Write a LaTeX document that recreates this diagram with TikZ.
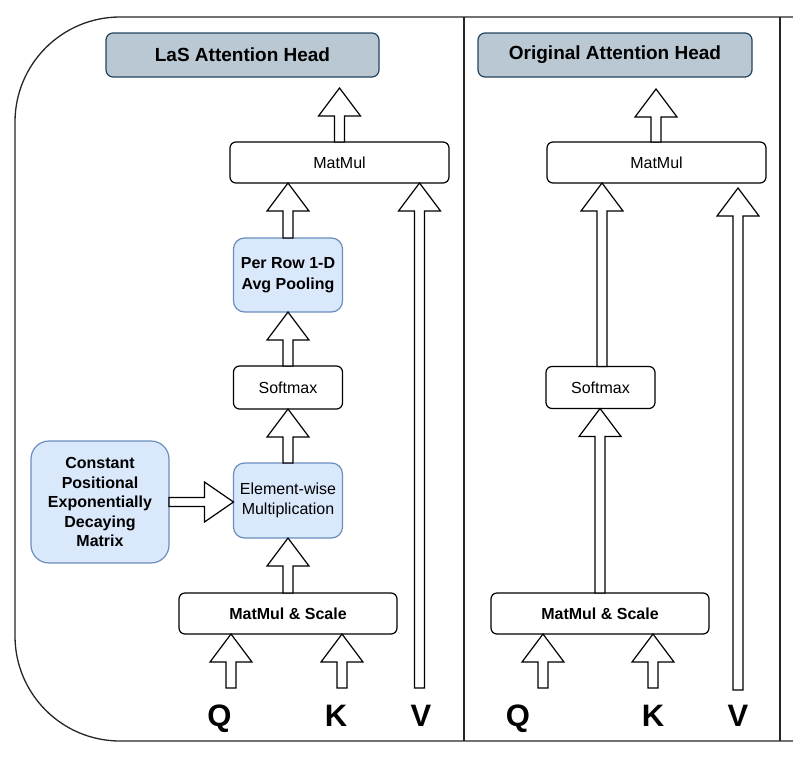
\documentclass[tikz,border=0pt]{standalone}
\usepackage{fontspec}
\setmainfont{Liberation Sans}
\usetikzlibrary{calc}
\definecolor{titlefill}{HTML}{BAC8D3}
\definecolor{titledraw}{HTML}{23445D}
\definecolor{bluefill}{HTML}{DAE8FC}
\definecolor{bluedraw}{HTML}{6C8EBF}
\tikzset{
  every node/.style={inner sep=0pt, outer sep=0pt},
  plainbox/.style={draw=black, line width=1.2pt, fill=white, rounded corners=6pt, font=\fontsize{16}{19.5}\selectfont, align=center},
  bluebox/.style={draw=bluedraw, line width=1.2pt, fill=bluefill, rounded corners=11pt, font=\fontsize{16}{19.5}\selectfont, align=center},
  titlebox/.style={draw=titledraw, line width=1.2pt, fill=titlefill, rounded corners=7pt, font=\fontsize{19}{22}\selectfont\bfseries},
  inlabel/.style={font=\fontsize{31}{31}\selectfont\bfseries, anchor=base},
  blockarr/.style={draw=black, line width=1.2pt, fill=white, line join=miter},
  frameline/.style={draw=black!85, line width=1.3pt}
}
\newcommand\blkup[2]{\draw[blockarr] let \p1=(#1), \p2=(#2) in
  (\x1-5pt,\y1) -- (\x1-5pt,\y2-28pt) -- (\x1-21pt,\y2-28pt) -- (\x1,\y2) --
  (\x1+21pt,\y2-28pt) -- (\x1+5pt,\y2-28pt) -- (\x1+5pt,\y1) -- cycle;}
\newcommand\blkright[2]{\draw[blockarr] let \p1=(#1), \p2=(#2) in
  (\x1,\y1+4.5pt) -- (\x2-29pt,\y1+4.5pt) -- (\x2-29pt,\y1+20pt) -- (\x2,\y1) --
  (\x2-29pt,\y1-20pt) -- (\x2-29pt,\y1-4.5pt) -- (\x1,\y1-4.5pt) -- cycle;}
\begin{document}
\begin{tikzpicture}[x=1pt,y=-1pt]
\useasboundingbox (0,0) rectangle (793,761);
% frame
\draw[frameline, rounded corners=105pt] (793,17) -- (15,17) -- (15,741) -- (793,741);
\draw[frameline] (464,17) -- (464,741);
\draw[frameline] (780,17) -- (780,741);

% ---- left panel ----
\node[titlebox, minimum width=273pt, minimum height=44pt] (lastitle) at (242.5,55) {LaS Attention Head};
\node[plainbox, minimum width=219pt, minimum height=41pt] (mm1) at (339.5,162.5) {MatMul};
\node[bluebox, minimum width=109pt, minimum height=74pt, font=\fontsize{16}{20.5}\selectfont\bfseries] (pool) at (288,275) {Per Row 1-D\\Avg Pooling};
\node[plainbox, minimum width=109pt, minimum height=43pt] (soft1) at (288,387.5) {Softmax};
\node[bluebox, minimum width=109pt, minimum height=75pt, font=\fontsize{16}{20.5}\selectfont] (elem) at (288,500.5) {Element-wise\\Multiplication};
\node[plainbox, minimum width=218pt, minimum height=41pt, font=\fontsize{16}{19.5}\selectfont\bfseries] (ms1) at (288,613.5) {MatMul \& Scale};
\node[bluebox, rounded corners=18pt, minimum width=138pt, minimum height=122pt, font=\fontsize{16}{19.5}\selectfont\bfseries] (const) at (100,502) {Constant\\Positional\\Exponentially\\Decaying\\Matrix};

\node[inlabel] (q1) at (219.5,726) {Q};
\node[inlabel] (k1) at (336,726) {K};
\node[inlabel] (v1) at (421,726) {V};

\coordinate (top1) at (339,88);
\coordinate (q1tail) at (231,688);
\coordinate (k1tail) at (342,688);
\coordinate (v1tail) at (419.5,688);

\blkup{mm1.north}{top1}
\blkup{pool.north}{mm1.south}
\blkup{soft1.north}{pool.south}
\blkup{elem.north}{soft1.south}
\blkup{ms1.north}{elem.south}
\blkup{q1tail}{ms1.south}
\blkup{k1tail}{ms1.south}
\blkup{v1tail}{mm1.south}
\blkright{const.east}{elem.west}

% ---- right panel ----
\node[titlebox, minimum width=274pt, minimum height=44pt] (origtitle) at (615,55) {Original Attention Head};
\node[plainbox, minimum width=219pt, minimum height=41pt] (mm2) at (656.5,162.5) {MatMul};
\node[plainbox, minimum width=109pt, minimum height=42pt] (soft2) at (600.5,387.5) {Softmax};
\node[plainbox, minimum width=218pt, minimum height=41pt, font=\fontsize{16}{19.5}\selectfont\bfseries] (ms2) at (600,613.5) {MatMul \& Scale};

\node[inlabel] (q2) at (518,726) {Q};
\node[inlabel] (k2) at (653,726) {K};
\node[inlabel] (v2) at (738,726) {V};

\coordinate (top2) at (656,89);
\coordinate (q2tail) at (543,688);
\coordinate (k2tail) at (653,688);
\coordinate (v2tail) at (738,690);
\coordinate (v2tip) at (738,188);

\blkup{mm2.north -| top2}{top2}
\blkup{soft2.north -| 602,0}{mm2.south}
\blkup{ms2.north}{soft2.south}
\blkup{q2tail}{ms2.south}
\blkup{k2tail}{ms2.south}
\blkup{v2tail}{v2tip}
\end{tikzpicture}
\end{document}
